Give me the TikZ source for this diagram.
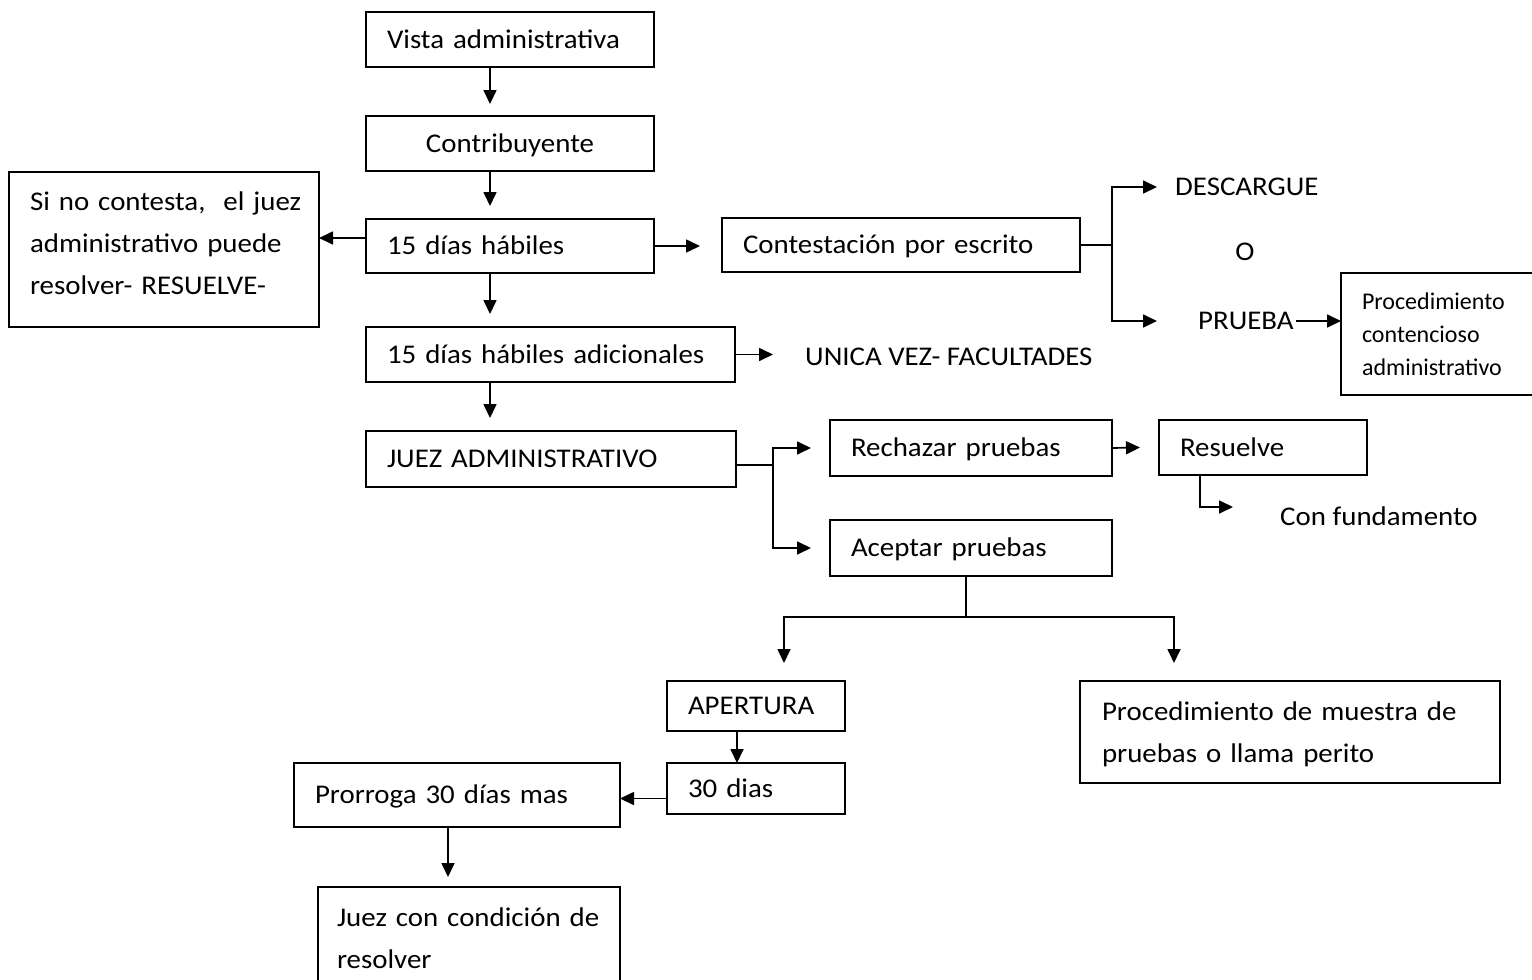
\documentclass[tikz,border=0pt]{standalone}
\usepackage{fontspec}
\setmainfont{Carlito}[FakeStretch=1.07]
\newfontfamily\smallfont{Carlito}
\usetikzlibrary{positioning,calc,arrows.meta}

\begin{document}
\begin{tikzpicture}[x=1pt,y=-1pt,font=\fontsize{27}{42}\selectfont,
  box/.style={draw,line width=2pt,outer sep=0pt,anchor=north west,inner xsep=21pt,inner ysep=0pt,text height=17pt,text depth=0pt,align=left},
  lbl/.style={inner sep=0pt,text height=17pt,text depth=0pt,anchor=west},
  arr/.style={line width=1.7pt,-{Triangle[length=14pt,width=13pt]}},
  ln/.style={line width=1.7pt}]
  \path[use as bounding box,fill=white] (0,0) rectangle (1532,980);

  \node[box,text width=246pt,minimum height=55pt] (vista) at (366,12) {\mbox{Vista administrativa}};
  \node[box,text width=246pt,minimum height=55pt,align=center] (contrib) at (366,116) {Contribuyente};
  \node[box,text width=246pt,minimum height=54pt] (dias) at (366,219) {15 días hábiles};
  \node[box,text width=327pt,minimum height=55pt] (adic) at (366,327) {15 días hábiles adicionales};
  \node[box,text width=328pt,minimum height=56pt] (juez) at (366,431) {JUEZ ADMINISTRATIVO};
  \node[box,text width=268pt,inner ysep=21pt,text depth=96pt] (sino) at (9,172) {\mbox{Si no contesta,\ \ el juez}\\administrativo puede\\resolver- RESUELVE-};

  \node[box,text width=316pt,minimum height=54pt] (contesta) at (722,218) {Contestación por escrito};
  \node[lbl] (descargue) at (1175,187) {DESCARGUE};
  \node[lbl,anchor=center] (o) at (1245,252) {O};
  \node[lbl] (prueba) at (1198,321) {PRUEBA};
  \node[box,font=\smallfont\fontsize{24}{33}\selectfont,text width=170pt,inner ysep=21pt,text height=15pt,text depth=65pt] (contencioso) at (1341,273) {Procedimiento\\contencioso\\administrativo};
  \node[lbl] (unica) at (805,357) {UNICA VEZ- FACULTADES};

  \node[box,text width=240pt,minimum height=56pt] (rechazar) at (830,420) {Rechazar pruebas};
  \node[box,text width=240pt,minimum height=56pt] (aceptar) at (830,520) {Aceptar pruebas};
  \node[box,text width=166pt,minimum height=55pt] (resuelve) at (1159,420) {Resuelve};
  \node[lbl] (confund) at (1280,517) {Con fundamento};

  \node[box,text width=136pt,minimum height=50pt] (apertura) at (667,681) {APERTURA};
  \node[box,text width=136pt,minimum height=51pt] (treinta) at (667,763) {30 dias};
  \node[box,text width=284pt,minimum height=64pt] (prorroga) at (294,763) {Prorroga 30 días mas};
  \node[box,text width=376pt,inner xsep=22pt,inner ysep=22.5pt,text depth=40pt] (muestra) at (1080,681) {Procedimiento de muestra de\\pruebas o llama perito};
  \node[box,text width=264pt,inner xsep=19pt,inner ysep=22.7pt,text depth=46pt] (juezcond) at (318,887) {\mbox{Juez con condición de}\\resolver};

  \draw[arr] ([xshift=124pt]vista.south west) -- ([xshift=124pt,yshift=12pt]contrib.north west);
  \draw[arr] ([xshift=124pt]contrib.south west) -- ([xshift=124pt,yshift=13pt]dias.north west);
  \draw[arr] ([xshift=124pt]dias.south west) -- ([xshift=124pt,yshift=13pt]adic.north west);
  \draw[arr] ([xshift=124pt]adic.south west) -- ([xshift=124pt,yshift=13pt]juez.north west);
  \draw[arr] ([yshift=8pt]dias.west) -- ([yshift=8pt]dias.west -| sino.east);
  \draw[arr] (dias.east) -- ([xshift=-22pt]dias.east -| contesta.west);

  \draw[ln] (contesta.east) -- ++(32,0) coordinate (fork1);
  \draw[arr] (fork1) |- ([xshift=-18pt]descargue.west);
  \draw[arr] (fork1) |- ([xshift=-41pt]prueba.west);
  \draw[arr] ([xshift=2pt]prueba.east) -- (prueba.east -| contencioso.west);
  \draw[arr] (adic.east) -- ([xshift=-32pt]adic.east -| unica.west);

  \draw[ln] ([yshift=-6pt]juez.east) -- ++(37,0) coordinate (fork2);
  \draw[arr] (fork2) |- ([xshift=-19pt]rechazar.west);
  \draw[arr] (fork2) |- ([xshift=-19pt]aceptar.west);
  \draw[arr] (rechazar.east) -- ([xshift=-19pt]resuelve.west);
  \draw[arr] ([xshift=41pt]resuelve.south west) |- ([xshift=-47pt,yshift=10pt]confund.west);

  \draw[ln] ([xshift=-5pt]aceptar.south) -- ++(0,41) coordinate (fork3);
  \draw[arr] (fork3) -| ([xshift=117pt,yshift=18pt]apertura.north west);
  \draw[arr] (fork3) -| ([xshift=94pt,yshift=18pt]muestra.north west);
  \draw[arr] ([xshift=70pt]apertura.south west) -- ([xshift=70pt]treinta.north west);
  \draw[arr] ([yshift=-10pt]treinta.west) -- ([yshift=-10pt]treinta.west -| prorroga.east);
  \draw[arr] ([xshift=154pt]prorroga.south west) -- ([xshift=130pt,yshift=10pt]juezcond.north west);
\end{tikzpicture}
\end{document}
